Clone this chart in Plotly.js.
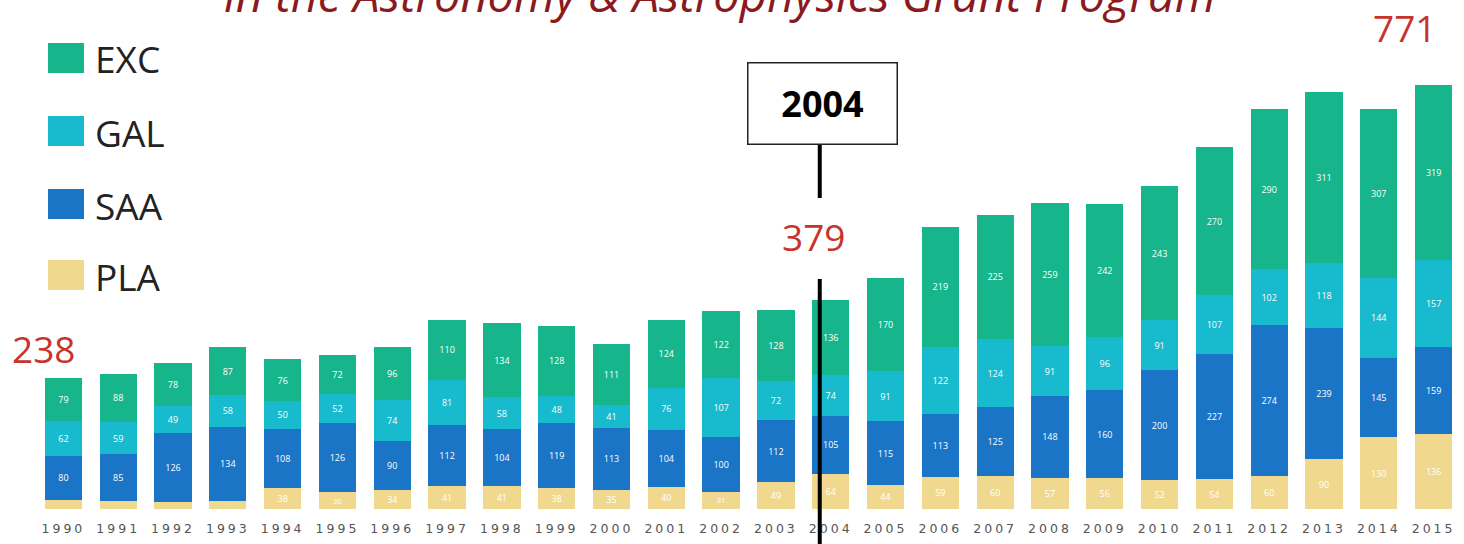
<!DOCTYPE html>
<html>
<head>
<meta charset="utf-8">
<script src="https://cdn.plot.ly/plotly-3.0.1.min.js"></script>
<style>
  html, body { margin: 0; padding: 0; background: #fff; }
  #chart { width: 1464px; height: 544px; }
  .xtick text { letter-spacing: 3px; }
</style>
</head>
<body>
<div id="chart"></div>
<script>
// ---- Data ----
const years = ['1990','1991','1992','1993','1994','1995','1996','1997','1998','1999','2000','2001','2002',
               '2003','2004','2005','2006','2007','2008','2009','2010','2011','2012','2013','2014','2015'];
const PLA = [17,14,12,15,38,30,34,41,41,38,35,40,31,49,64,44,59,60,57,56,52,54,60,90,130,136];
const SAA = [80,85,126,134,108,126,90,112,104,119,113,104,100,112,105,115,113,125,148,160,200,227,274,239,145,159];
const GAL = [62,59,49,58,50,52,74,81,58,48,41,76,107,72,74,91,122,124,91,96,91,107,102,118,144,157];
const EXC = [79,88,78,87,76,72,96,110,134,128,111,124,122,128,136,170,219,225,259,242,243,270,290,311,307,319];
const seriesNames = ['PLA','SAA','GAL','EXC'];
const legendOrder = ['EXC','GAL','SAA','PLA'];
const highlightYears = ['1990','2004','2015'];
const markerYear = '2004';
const titleText = 'in the Astronomy & Astrophysics Grant Program';

// ---- Styles ----
const colors = { PLA: '#F0D98F', SAA: '#1A75C6', GAL: '#18BACD', EXC: '#17B58C' };
const values = { PLA, SAA, GAL, EXC };

// plot area geometry (pixels)
const L = 36, R = 3, T = 41, B = 35, W = 1464, H = 544;
const pw = W - L - R, ph = H - T - B;
const px = x => (x - L) / pw;
const py = y => (H - B - y) / ph;
const catPaper = idx => (idx + 0.5) / years.length;   // category index -> paper x

const traces = seriesNames.map(n => ({
  type: 'bar',
  name: n,
  x: years,
  y: values[n],
  marker: { color: colors[n], line: { width: 0 } },
  text: values[n].map(String),
  textposition: 'inside',
  insidetextanchor: 'middle',
  textangle: 0,
  textfont: { color: '#ffffff', size: 9, family: 'Open Sans, sans-serif' },
  hoverinfo: 'x+y+name',
  showlegend: false
}));

const totals = years.map((_, i) => seriesNames.reduce((s, n) => s + values[n][i], 0));

const annotations = [];
const shapes = [];

// title (partially cut at the top, as in the reference)
annotations.push({
  xref: 'paper', yref: 'paper', x: px(720), y: py(28), xanchor: 'center', yanchor: 'bottom',
  text: '<i>' + titleText + '</i>', showarrow: false,
  font: { family: 'Open Sans, sans-serif', size: 47, color: '#8A1A1E' }
});

// highlighted totals
const totalOffsets = { '1990': [-20, 2], '2004': [-17, 36], '2015': [-29, 30] };
highlightYears.forEach(yr => {
  const i = years.indexOf(yr);
  annotations.push({
    xref: 'paper', yref: 'y', x: catPaper(i), y: totals[i], xanchor: 'center', yanchor: 'bottom',
    xshift: totalOffsets[yr][0], yshift: totalOffsets[yr][1],
    text: String(totals[i]), showarrow: false,
    font: { family: 'Open Sans, sans-serif', size: 37, color: '#C8332B' }
  });
});

// 2004 marker line and box
const mx = catPaper(years.indexOf(markerYear) - 0.2);
shapes.push({ type: 'line', xref: 'paper', yref: 'paper', x0: mx, x1: mx, y0: py(145), y1: py(198),
  line: { color: '#000', width: 4 }, layer: 'above' });
shapes.push({ type: 'line', xref: 'paper', yref: 'paper', x0: mx, x1: mx, y0: py(279), y1: py(546),
  line: { color: '#000', width: 4 }, layer: 'above' });
annotations.push({
  xref: 'paper', yref: 'paper', x: mx, y: py(104), xanchor: 'center', yanchor: 'middle', xshift: 3,
  text: '<b>' + markerYear + '</b>', showarrow: false,
  width: 146, height: 78, bgcolor: '#fff', bordercolor: '#222', borderwidth: 1.5,
  font: { family: 'Open Sans, sans-serif', size: 36, color: '#000' }
});

// custom legend
const rowY = [58, 131, 204, 275];
legendOrder.forEach((n, k) => {
  const cy = rowY[k];
  shapes.push({ type: 'rect', xref: 'paper', yref: 'paper',
    x0: px(48), x1: px(84), y0: py(cy + 15), y1: py(cy - 15),
    fillcolor: colors[n], line: { width: 0 } });
  annotations.push({ xref: 'paper', yref: 'paper', x: px(93), y: py(cy + 1),
    xanchor: 'left', yanchor: 'middle', text: n, showarrow: false,
    font: { family: 'Open Sans, sans-serif', size: 37, color: '#222' } });
});

const layout = {
  width: W, height: H,
  margin: { l: L, r: R, t: T, b: B, pad: 0 },
  paper_bgcolor: '#fff', plot_bgcolor: '#fff',
  barmode: 'stack',
  bargap: 0.32,
  showlegend: false,
  xaxis: {
    type: 'category', categoryorder: 'array', categoryarray: years,
    range: [-0.5, years.length - 0.5], autorange: false,
    showgrid: false, zeroline: false, showline: false,
    ticks: 'outside', ticklen: 8, tickcolor: 'rgba(0,0,0,0)',
    tickangle: 0,
    tickfont: { family: 'DejaVu Sans, sans-serif', size: 12.5, color: '#555' },
    fixedrange: true
  },
  yaxis: {
    range: [0, 850], autorange: false, showgrid: false, zeroline: false, showline: false,
    showticklabels: false, ticks: '', fixedrange: true
  },
  annotations, shapes
};

Plotly.newPlot('chart', traces, layout, { displayModeBar: false, staticPlot: true });
</script>
</body>
</html>
